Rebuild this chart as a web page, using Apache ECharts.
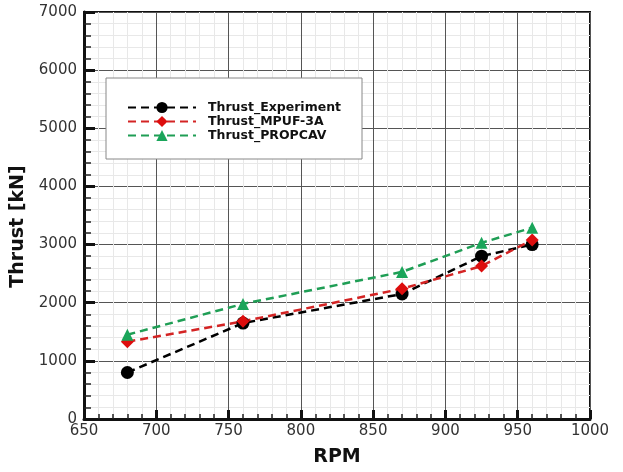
<!DOCTYPE html>
<html>
<head>
<meta charset="utf-8">
<script src="https://cdn.jsdelivr.net/npm/echarts@6/dist/echarts.min.js"></script>
<style>html,body{margin:0;padding:0;background:#fff}#c{width:623px;height:472px}</style>
</head>
<body>
<div id="c"></div>
<script>
const rpm = [680, 760, 870, 925, 960];
const thrustExperiment = [800, 1650, 2150, 2800, 3000];
const thrustMPUF = [1330, 1680, 2240, 2630, 3080];
const thrustPROPCAV = [1450, 1980, 2530, 3030, 3290];
const seriesNames = ['Thrust_Experiment', 'Thrust_MPUF-3A', 'Thrust_PROPCAV'];

const pair = (ys) => rpm.map((x, i) => [x, ys[i]]);
const font = 'DejaVu Sans';
const plain = (v) => String(v);

const chart = echarts.init(document.getElementById('c'));
chart.setOption({
  animation: false,
  backgroundColor: '#fff',
  grid: { left: 84, right: 33, top: 12, bottom: 50, show: true, borderColor: '#111', borderWidth: 2, backgroundColor: 'transparent' },
  legend: {
    orient: 'vertical', left: 106, top: 78,
    padding: [23, 21, 17, 21],
    itemGap: 1, itemWidth: 68, itemHeight: 14,
    backgroundColor: '#fff', borderColor: '#888', borderWidth: 1,
    textStyle: { fontFamily: font, fontWeight: 'bold', fontSize: 12.5, color: '#111', padding: [0, 0, 0, 7] },
    data: seriesNames
  },
  xAxis: {
    type: 'value', min: 650, max: 1000, interval: 50,
    name: 'RPM', nameLocation: 'middle', nameGap: 29,
    nameTextStyle: { fontFamily: font, fontWeight: 'bold', fontSize: 19, color: '#111' },
    axisLine: { show: true, lineStyle: { color: '#111', width: 3 } },
    axisTick: { show: true, inside: true, length: 9, lineStyle: { color: '#111', width: 3 } },
    minorTick: { show: true, splitNumber: 5, length: 5, lineStyle: { color: '#222', width: 1.5 } },
    axisLabel: { fontFamily: font, fontSize: 15, color: '#333', margin: 5, formatter: plain },
    splitLine: { show: true, lineStyle: { color: '#555', width: 1 } },
    minorSplitLine: { show: true, lineStyle: { color: '#e8e8e8', width: 1 } }
  },
  yAxis: {
    type: 'value', min: 0, max: 7000, interval: 1000,
    name: 'Thrust [kN]', nameLocation: 'middle', nameGap: 51,
    nameTextStyle: { fontFamily: font, fontWeight: 'bold', fontSize: 19, color: '#111', padding: [0, 22, 0, 0] },
    axisLine: { show: true, lineStyle: { color: '#111', width: 3 } },
    axisTick: { show: true, inside: true, length: 11, lineStyle: { color: '#111', width: 3 } },
    minorTick: { show: true, splitNumber: 5, length: 7, lineStyle: { color: '#222', width: 1.5 } },
    axisLabel: { fontFamily: font, fontSize: 15, color: '#333', margin: 7, formatter: plain },
    splitLine: { show: true, lineStyle: { color: '#555', width: 1 } },
    minorSplitLine: { show: true, lineStyle: { color: '#e8e8e8', width: 1 } }
  },
  series: [
    {
      name: seriesNames[0], type: 'line', data: pair(thrustExperiment),
      symbol: 'circle', symbolSize: 13,
      lineStyle: { color: '#000', width: 2.5, type: [8, 5] },
      itemStyle: { color: '#000' }
    },
    {
      name: seriesNames[1], type: 'line', data: pair(thrustMPUF),
      symbol: 'diamond', symbolSize: 13,
      lineStyle: { color: '#d42424', width: 2.5, type: [8, 5] },
      itemStyle: { color: '#dd0d0d' }
    },
    {
      name: seriesNames[2], type: 'line', data: pair(thrustPROPCAV),
      symbol: 'triangle', symbolSize: 12,
      lineStyle: { color: '#1f9e55', width: 2.5, type: [8, 5] },
      itemStyle: { color: '#1aa55a' }
    }
  ]
});
</script>
</body>
</html>
